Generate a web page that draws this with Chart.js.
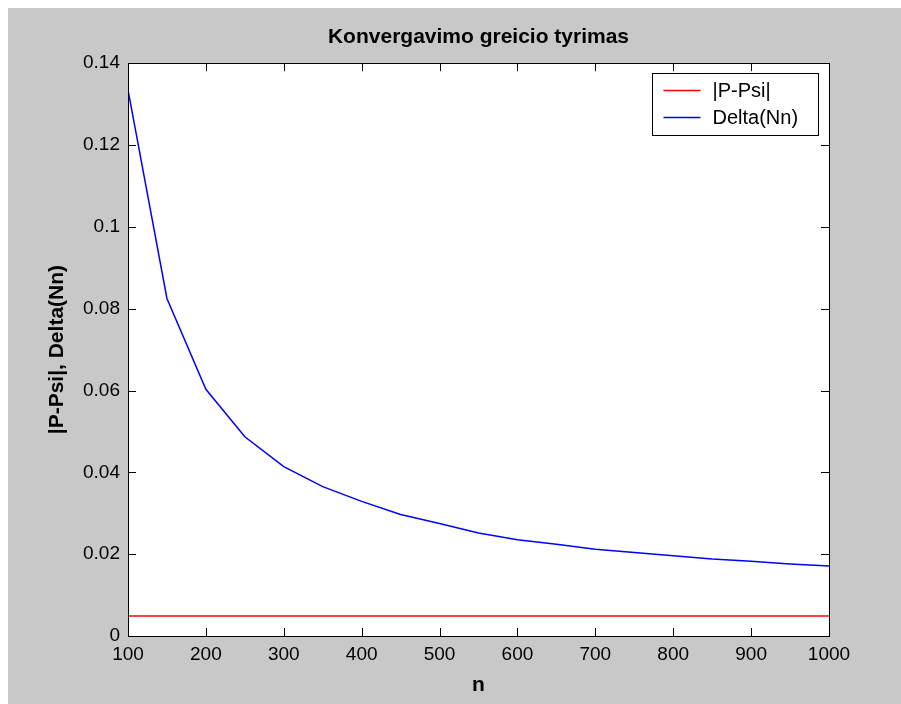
<!DOCTYPE html>
<html>
<head>
<meta charset="utf-8">
<title>Konvergavimo greicio tyrimas</title>
<script src="https://cdn.jsdelivr.net/npm/chart.js@4.4.1/dist/chart.umd.min.js"></script>
<style>
    html, body { margin: 0; padding: 0; background: #ffffff; }
    #wrap { width: 901px; height: 704px; }
</style>
</head>
<body>
<div id="wrap"><canvas id="convChart" width="901" height="704"></canvas></div>
<script>
// ===== Duomenys =====
const nValues = [100, 150, 200, 250, 300, 350, 400, 450, 500, 550, 600, 650, 700, 750, 800, 850, 900, 950, 1000];
const deltaValues = [0.1335, 0.0825, 0.0603, 0.0487, 0.0414, 0.0365, 0.0329, 0.0297, 0.0275, 0.0252, 0.0235,
    0.0224, 0.0212, 0.0204, 0.0196, 0.0188, 0.0183, 0.0176, 0.0171];
const pPsiValues = [0.0049, 0.0049, 0.0049, 0.0049, 0.0049, 0.0049, 0.0049, 0.0049, 0.0049, 0.0049, 0.0049,
    0.0049, 0.0049, 0.0049, 0.0049, 0.0049, 0.0049, 0.0049, 0.0049];

const xTicks = [100, 200, 300, 400, 500, 600, 700, 800, 900, 1000];
const xTickLabels = ['100', '200', '300', '400', '500', '600', '700', '800', '900', '1000'];
const yTicks = [0, 0.02, 0.04, 0.06, 0.08, 0.1, 0.12, 0.14];
const yTickLabels = ['0', '0.02', '0.04', '0.06', '0.08', '0.1', '0.12', '0.14'];

const seriesLabels = ['|P-Psi|', 'Delta(Nn)'];

const FONT = '"Liberation Sans", Arial, Helvetica, sans-serif';

// ===== Fonas (MATLAB stilius) =====
const figureBackground = {
    id: 'figureBackground',
    beforeDraw(chart) {
        const { ctx, chartArea: a } = chart;
        ctx.save();
        ctx.fillStyle = '#ffffff';
        ctx.fillRect(0, 0, chart.width, chart.height);
        ctx.fillStyle = '#c8c8c8';
        ctx.fillRect(8, 8, chart.width - 8, chart.height - 8);
        ctx.fillStyle = '#ffffff';
        ctx.fillRect(a.left, a.top, a.right - a.left, a.bottom - a.top);
        ctx.restore();
    }
};

// ===== Rėmelis, vidinės žymos ir legenda =====
const axesBox = {
    id: 'axesBox',
    afterDraw(chart) {
        const { ctx, chartArea: a, scales } = chart;
        const tl = 8;
        ctx.save();
        ctx.strokeStyle = '#000000';
        ctx.lineWidth = 1;
        ctx.beginPath();
        scales.x.ticks.forEach(t => {
            const px = Math.round(scales.x.getPixelForValue(t.value)) + 0.5;
            ctx.moveTo(px, a.bottom); ctx.lineTo(px, a.bottom - tl);
            ctx.moveTo(px, a.top); ctx.lineTo(px, a.top + tl);
        });
        scales.y.ticks.forEach(t => {
            const py = Math.round(scales.y.getPixelForValue(t.value)) + 0.5;
            ctx.moveTo(a.left, py); ctx.lineTo(a.left + tl, py);
            ctx.moveTo(a.right, py); ctx.lineTo(a.right - tl, py);
        });
        ctx.stroke();
        ctx.strokeRect(Math.round(a.left) + 0.5, Math.round(a.top) + 0.5,
            Math.round(a.right - a.left), Math.round(a.bottom - a.top));

        // legenda
        const bw = 166, bh = 62;
        const bx = Math.round(a.right - 11 - bw) + 0.5;
        const by = Math.round(a.top + 10) + 0.5;
        ctx.fillStyle = '#ffffff';
        ctx.fillRect(bx, by, bw, bh);
        ctx.strokeStyle = '#000000';
        ctx.strokeRect(bx, by, bw, bh);
        ctx.font = '20px ' + FONT;
        ctx.textBaseline = 'middle';
        ctx.textAlign = 'left';
        chart.data.datasets.forEach((ds, i) => {
            const ly = by + 17 + i * 27;
            ctx.strokeStyle = ds.borderColor;
            ctx.lineWidth = 1.5;
            ctx.beginPath();
            ctx.moveTo(bx + 11, ly);
            ctx.lineTo(bx + 48, ly);
            ctx.stroke();
            ctx.fillStyle = '#000000';
            ctx.fillText(ds.label, bx + 60, ly + 1);
        });
        ctx.restore();
    }
};

// ===== Grafikas =====
function renderChart() {
    const ctx = document.getElementById('convChart').getContext('2d');
    new Chart(ctx, {
        type: 'line',
        data: {
            datasets: [
                {
                    label: seriesLabels[0],
                    data: nValues.map((n, i) => ({ x: n, y: pPsiValues[i] })),
                    borderColor: '#ff0000',
                    borderWidth: 1.5,
                    pointRadius: 0,
                    tension: 0
                },
                {
                    label: seriesLabels[1],
                    data: nValues.map((n, i) => ({ x: n, y: deltaValues[i] })),
                    borderColor: '#0000ff',
                    borderWidth: 1.5,
                    pointRadius: 0,
                    tension: 0
                }
            ]
        },
        options: {
            responsive: false,
            animation: false,
            devicePixelRatio: 1,
            layout: { padding: { left: 0, right: 72, top: 0, bottom: 0 } },
            plugins: {
                legend: { display: false },
                tooltip: { enabled: false },
                title: {
                    display: true,
                    fullSize: false,
                    text: 'Konvergavimo greicio tyrimas',
                    color: '#000000',
                    font: { family: FONT, size: 21, weight: 'bold', lineHeight: 1.2 },
                    padding: { top: 25, bottom: 13 }
                }
            },
            scales: {
                x: {
                    type: 'linear',
                    min: 100,
                    max: 1000,
                    grid: { display: false, drawTicks: false },
                    border: { display: false },
                    afterBuildTicks: s => { s.ticks = xTicks.map(v => ({ value: v })); },
                    afterFit: s => { s.height = 68; },
                    ticks: {
                        color: '#000000',
                        padding: 7,
                        maxRotation: 0,
                        autoSkip: false,
                        font: { family: FONT, size: 19 },
                        callback: (v, i) => xTickLabels[i]
                    },
                    title: {
                        display: true,
                        text: 'n',
                        color: '#000000',
                        font: { family: FONT, size: 21, weight: 'bold', lineHeight: 1.2 },
                        padding: { top: 0, bottom: 6 }
                    }
                },
                y: {
                    min: 0,
                    max: 0.14,
                    grid: { display: false, drawTicks: false },
                    border: { display: false },
                    afterBuildTicks: s => { s.ticks = yTicks.map(v => ({ value: v })); },
                    afterFit: s => { s.width = 128; },
                    ticks: {
                        color: '#000000',
                        padding: 8,
                        autoSkip: false,
                        font: { family: FONT, size: 19 },
                        callback: (v, i) => yTickLabels[i]
                    },
                    title: {
                        display: true,
                        text: '|P-Psi|, Delta(Nn)',
                        color: '#000000',
                        font: { family: FONT, size: 21, weight: 'bold', lineHeight: 1.2 },
                        padding: { top: 45, bottom: 0 }
                    }
                }
            }
        },
        plugins: [figureBackground, axesBox]
    });
}

renderChart();
</script>
</body>
</html>
